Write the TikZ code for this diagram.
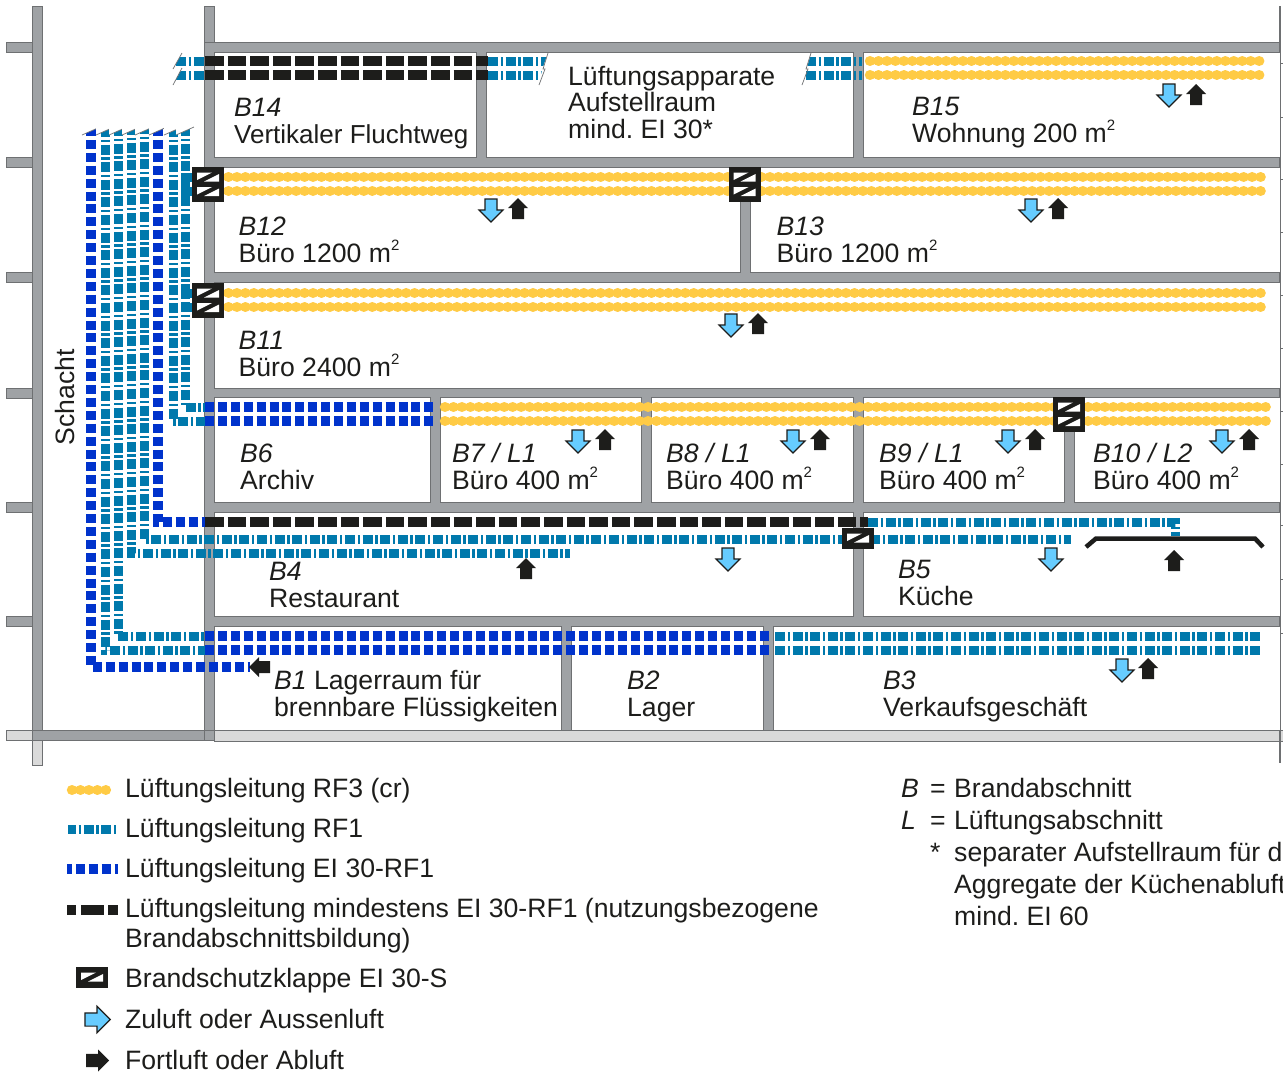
\documentclass[tikz,border=0pt]{standalone}
\usepackage{fontspec}
\setmainfont{Liberation Sans}
\definecolor{wallgray}{HTML}{9FA2A5}
\definecolor{walledge}{HTML}{6E7072}
\definecolor{walllight}{HTML}{DADADA}
\definecolor{ductyellow}{HTML}{FFCB45}
\definecolor{ductteal}{HTML}{0079AC}
\definecolor{ductblue}{HTML}{0033CC}
\definecolor{ductblack}{HTML}{1D1D1B}
\definecolor{airblue}{HTML}{66CCFF}
\newcommand{\qm}{m\raisebox{.42em}{\fontsize{15}{15}\selectfont 2}}
\newcommand{\slsep}{\hspace{7.5pt}/\hspace{7.5pt}}

\begin{document}
\begin{tikzpicture}[x=1pt, y=-1pt,
  wall/.style={fill=wallgray, draw=walledge, line width=0.7pt},
  lightwall/.style={fill=walllight, draw=walledge, line width=0.7pt},
  room/.style={fill=white, draw=walledge, line width=1pt},
  rf3/.style={draw=ductyellow, line width=10.5pt, line cap=round, dash pattern=on 0.01pt off 8.45pt},
  rf1/.style={draw=ductteal, line width=9pt, dash pattern=on 10pt off 2.6pt on 2.4pt off 2.6pt},
  ei30/.style={draw=ductblue, line width=10pt, dash pattern=on 9pt off 3.9pt},
  ei30nutz/.style={draw=ductblack, line width=9.5pt, dash pattern=on 18.5pt off 4.1pt},
  brk/.style={draw=walledge, line width=0.7pt},
  lbl/.style={anchor=base west, inner sep=0pt, align=left, text=ductblack, font=\fontsize{26.6}{26.4}\selectfont\frenchspacing},
  klappeslot/.pic={
    \fill[white] (-11,-4.5) -- (4,-4.5) -- (-11,3) -- cycle;
    \fill[white] (11,4.5) -- (-4,4.5) -- (11,-3) -- cycle;
  },
  klappeone/.pic={
    \fill[ductblack] (-16,-10.5) rectangle (16,10.5);
    \pic at (0,0) {klappeslot};
  },
  klappetwo/.pic={
    \fill[ductblack] (-16,-17.5) rectangle (16,17.5);
    \pic at (0,-7) {klappeslot};
    \pic at (0,7.5) {klappeslot};
  },
  zuluft/.pic={
    \draw[fill=airblue, draw=ductblack, line width=1.2pt, line join=miter]
      (0,12) -- (12,0) -- (6,0) -- (6,-11) -- (-6,-11) -- (-6,0) -- (-12,0) -- cycle;
  },
  fortluft/.pic={
    \fill[ductblack] (0,-11) -- (10,-1) -- (6,-1) -- (6,10) -- (-6,10) -- (-6,-1) -- (-10,-1) -- cycle;
  }]
\useasboundingbox (0,0) rectangle (1283,1072);

% walls
\foreach \ya in {42,157,272,388,502,616}
  \draw[wall] (6,\ya) rectangle (32,\ya+10);
\draw[lightwall] (6,730) rectangle (32,740);
\draw[lightwall] (32,740) rectangle (42,765);
\draw[lightwall] (214,730) rectangle (1283,741);
\draw[wall] (32,6) rectangle (42,740);
\draw[wall] (32,730) rectangle (214,740);
\draw[wall] (204,6) rectangle (214,740);
\draw[wall] (204,42) rectangle (1280,730);
\draw[draw=walledge, line width=1.5pt] (1280,6) -- (1280,763);
\foreach \ya in {63,117,179,232,295,348,411,464,525,579,633}
  \draw[brk] (1280,\ya) -- (1283,\ya);

% rooms
\foreach \xa/\ya/\xb/\yb in {214/52/476/157, 486/52/853/157, 863/52/1280/157,
    214/167/740/272, 750/167/1280/272, 214/282/1280/388,
    214/397/430/502, 440/397/641/502, 651/397/853/502, 863/397/1064/502, 1074/397/1280/502,
    214/512/853/616, 863/512/1280/616,
    214/626/561/730, 571/626/763/730, 773/626/1280/730}
  \draw[room] (\xa,\ya) rectangle (\xb,\yb);

% ducts in the shaft
\draw[ei30] (91,127) -- (91,667) -- (250,667);
\draw[rf1] (105,127) -- (105,650) -- (205,650);
\draw[rf1, dash phase=1pt] (118,127) -- (118,636) -- (205,636);
\draw[rf1, dash phase=2pt] (131,127) -- (131,553) -- (570,553);
\draw[rf1, dash phase=3pt] (144,127) -- (144,539) -- (845,539);
\draw[ei30] (158,127) -- (158,522) -- (205,522);
\draw[rf1] (173,127) -- (173,421) -- (205,421);
\draw[rf1, dash phase=1pt] (185,127) -- (185,407) -- (205,407);
\foreach \xa in {91,105,118,131,144,158,173,185} {
  \fill[white] (\xa-9,135) -- (\xa+9,127) -- (\xa+9,120) -- (\xa-9,120) -- cycle;
  \draw[brk] (\xa-9,135) -- (\xa+9,127);
}
\foreach \ya in {177,191,293,307}
  \draw[draw=ductteal, line width=9pt] (181,\ya) -- (195,\ya);

% floor by floor
\draw[rf1] (176,61) -- (205,61);
\draw[rf1] (176,75) -- (205,75);
\draw[ei30nutz] (205,61) -- (488,61);
\draw[ei30nutz] (205,75) -- (488,75);
\draw[rf1] (488,61) -- (546,61);
\draw[rf1] (488,75) -- (546,75);
\draw[rf1] (806,61) -- (862,61);
\draw[rf1] (806,75) -- (862,75);
\fill[white] (173,69) -- (182,53) -- (170,53) -- cycle;
\fill[white] (173,85) -- (182,68) -- (170,68) -- cycle;
\fill[white] (542,70) -- (548,53) -- (552,53) -- (552,85) -- (539,85) -- cycle;
\fill[white] (802,85) -- (811,53) -- (798,53) -- (798,85) -- cycle;
\draw[brk] (173,69) -- (182,53);
\draw[brk] (173,85) -- (182,68);
\draw[brk] (548,53) -- (543,69) -- (545,69) -- (539,85);
\draw[brk] (811,53) -- (806,69) -- (808,69) -- (802,85);
\draw[rf3] (870,61) -- (1262,61);
\draw[rf3] (870,75) -- (1262,75);
\draw[rf3] (220,177) -- (1262,177);
\draw[rf3] (220,191) -- (1262,191);
\draw[rf3] (220,293) -- (1262,293);
\draw[rf3] (220,307) -- (1262,307);
\draw[ei30] (205,407) -- (437,407);
\draw[ei30] (205,421) -- (437,421);
\draw[rf3] (445,407) -- (1267,407);
\draw[rf3] (445,421) -- (1267,421);
\draw[ei30nutz] (205,522) -- (868,522);
\draw[rf1] (868,522) -- (1175,522) -- (1175,536);
\draw[rf1] (870,539) -- (1071,539);
\draw[ei30] (205,636) -- (771,636);
\draw[ei30] (205,650) -- (771,650);
\draw[rf1] (775,636) -- (1260,636);
\draw[rf1] (775,650) -- (1260,650);

% hood
\draw[draw=ductblack, line width=4.5pt] (1086,547) -- (1096,538.5) -- (1255,538.5) -- (1263,547);

% dampers
\pic at (208,184) {klappetwo};
\pic at (744.5,184) {klappetwo};
\pic at (208,300) {klappetwo};
\pic at (1069,414) {klappetwo};
\pic at (858,538) {klappeone};

% arrows
\foreach \xa/\ya in {1169/95, 491/210, 1031/210, 731/325, 578/441, 793/441, 1008/441, 1222/441, 728/559, 1051/559, 1122/670}
  \pic at (\xa,\ya) {zuluft};
\foreach \xa/\ya in {1196/95, 518/209, 1058/209, 758/324, 605/440, 820/440, 1035/440, 1249/440, 526/569, 1174/561, 1148/669}
  \pic at (\xa,\ya) {fortluft};
\pic[rotate=90] at (260,667) {fortluft};

% room labels
\node[lbl] (b14) at (234,143) {\textit{B14}\\{\fontsize{26}{26.4}\selectfont Vertikaler Fluchtweg}};
\node[lbl] (aufstell) at (568,138) {Lüftungsapparate\\Aufstellraum\\mind. EI 30*};
\node[lbl] (b15) at (912,142) {\textit{B15}\\Wohnung 200 \qm};
\node[lbl] (b12) at (238.5,262) {\textit{B12}\\Büro 1200 \qm};
\node[lbl] (b13) at (776.5,262) {\textit{B13}\\Büro 1200 \qm};
\node[lbl] (b11) at (238.5,376) {\textit{B11}\\Büro 2400 \qm};
\node[lbl] (b6) at (240,489) {\textit{B6}\\Archiv};
\node[lbl] (b7) at (452,489) {\textit{B7\slsep L1}\\Büro 400 \qm};
\node[lbl] (b8) at (666,489) {\textit{B8\slsep L1}\\Büro 400 \qm};
\node[lbl] (b9) at (879,489) {\textit{B9\slsep L1}\\Büro 400 \qm};
\node[lbl] (b10) at (1093,489) {\textit{B10\slsep L2}\\Büro 400 \qm};
\node[lbl] (b4) at (269,607) {\textit{B4}\\Restaurant};
\node[lbl] (b5) at (898,605) {\textit{B5}\\Küche};
\node[lbl] (b1) at (274,716) {\textit{B1} Lagerraum für\\brennbare Flüssigkeiten};
\node[lbl] (b2) at (627,716) {\textit{B2}\\Lager};
\node[lbl] (b3) at (883,716) {\textit{B3}\\Verkaufsgeschäft};
\node[lbl, anchor=base, rotate=90] (schacht) at (74,397) {Schacht};

% legend
\draw[rf3] (72,790) -- (114,790);
\draw[rf1, dash phase=2pt] (68,829) -- (118,829);
\draw[ei30, dash phase=4pt] (67,869) -- (118,869);
\draw[ei30nutz, dash pattern=on 9pt off 5pt on 23pt off 4pt on 10pt] (67,910) -- (118,910);
\pic at (92,977) {klappeone};
\pic[rotate=90, scale=1.1] at (97,1019.5) {zuluft};
\pic[rotate=-90, scale=1.1] at (97,1060.5) {fortluft};
\node[lbl] (rf3text) at (125,797) {Lüftungsleitung RF3 (cr)};
\node[lbl] (rf1text) at (125,837) {Lüftungsleitung RF1};
\node[lbl] (ei30text) at (125,877) {Lüftungsleitung EI 30-RF1};
\node[lbl, font=\fontsize{26.6}{30}\selectfont\frenchspacing] (nutztext) at (125,947) {Lüftungsleitung mindestens EI 30-RF1 (nutzungsbezogene\\Brandabschnittsbildung)};
\node[lbl] (klappetext) at (125,987) {Brandschutzklappe EI 30-S};
\node[lbl] (zulufttext) at (125,1028) {Zuluft oder Aussenluft};
\node[lbl] (fortlufttext) at (125,1069) {Fortluft oder Abluft};

\node[lbl] (bkey) at (901,797) {\textit{B}};
\node[lbl] (bis) at (930,797) {=};
\node[lbl] (btext) at (954,797) {Brandabschnitt};
\node[lbl] (lkey) at (901,829) {\textit{L}};
\node[lbl] (lis) at (930,829) {=};
\node[lbl] (ltext) at (954,829) {Lüftungsabschnitt};
\node[lbl] (star) at (930,861) {*};
\node[lbl, font=\fontsize{26.6}{32}\selectfont\frenchspacing] (startext) at (954,925) {separater Aufstellraum für d\\Aggregate der Küchenabluft\\mind. EI 60};

\end{tikzpicture}
\end{document}
